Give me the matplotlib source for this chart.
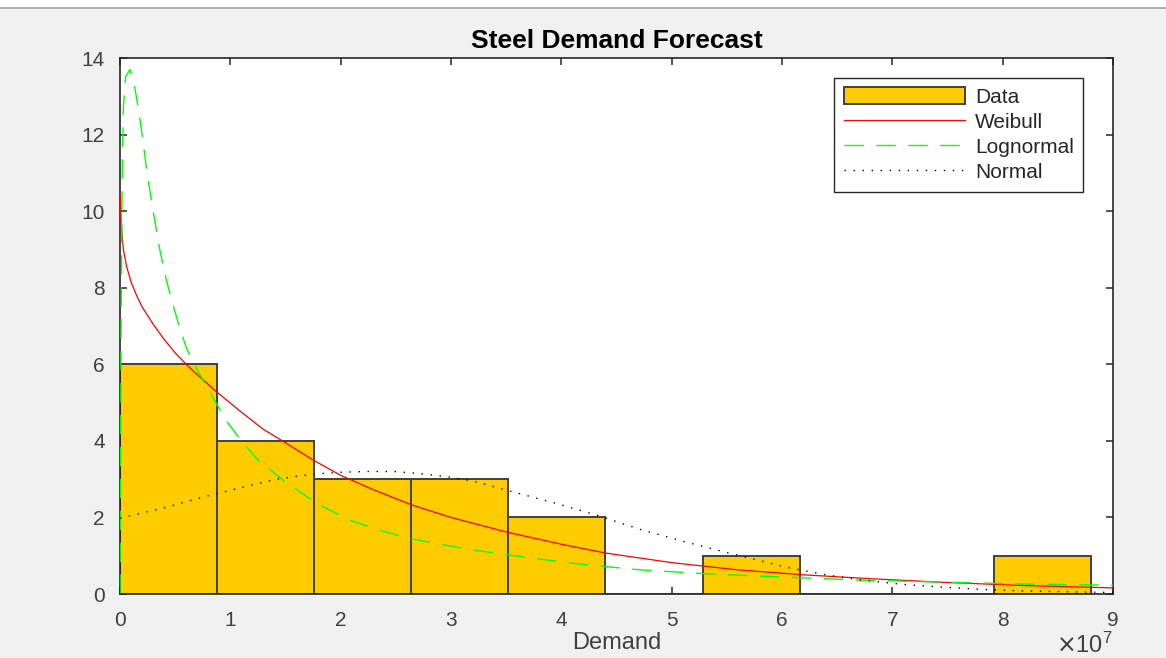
import matplotlib.pyplot as plt
import numpy as np

plt.rcParams['font.family'] = ['Liberation Sans', 'DejaVu Sans']

SCALE = 1e7  # demand values below are in units of 1e7

# histogram of demand (10 bins)
bin_edges = [0.0, 0.88, 1.76, 2.64, 3.52, 4.40, 5.28, 6.16, 7.04, 7.92, 8.80]
counts = [6, 4, 3, 3, 2, 0, 1, 0, 0, 1]

# fitted curves, scaled to counts
weibull_x = [0.003, 0.01, 0.03, 0.06, 0.1, 0.15, 0.2, 0.3, 0.4, 0.5, 0.6, 0.75, 0.88, 1.1,
             1.3, 1.5, 1.75, 2.0, 2.3, 2.65, 3.0, 3.5, 4.0, 4.4, 5.0, 5.6, 6.2, 6.8, 7.5,
             8.2, 9.0]
weibull_y = [10.45, 9.7, 9.0, 8.55, 8.15, 7.8, 7.5, 7.05, 6.65, 6.3, 6.0, 5.6, 5.27, 4.75,
             4.3, 3.95, 3.5, 3.1, 2.72, 2.32, 2.0, 1.62, 1.3, 1.07, 0.82, 0.63, 0.5, 0.4, 0.3,
             0.22, 0.16]

lognormal_x = [0.0, 0.005, 0.01, 0.02, 0.03, 0.05, 0.09, 0.13, 0.17, 0.2, 0.245, 0.3, 0.36,
               0.42, 0.47, 0.53, 0.6, 0.7, 0.84, 0.97, 1.1, 1.25, 1.48, 1.78, 2.08, 2.38,
               2.6, 2.84, 3.2, 3.75, 4.2, 4.72, 5.3, 5.78, 6.3, 6.73, 7.45, 8.18, 9.0]
lognormal_y = [0.0, 3.0, 7.0, 11.0, 12.7, 13.5, 13.7, 13.3, 12.6, 12.0, 11.0, 10.0, 9.0,
               8.2, 7.66, 7.05, 6.44, 5.85, 5.14, 4.5, 4.0, 3.5, 2.97, 2.37, 1.93, 1.64,
               1.47, 1.33, 1.15, 0.93, 0.77, 0.63, 0.53, 0.47, 0.41, 0.36, 0.31, 0.26, 0.23]

normal_x = [0.0, 0.4, 0.75, 1.1, 1.42, 1.75, 2.0, 2.24, 2.48, 2.7, 2.95, 3.2, 3.57, 3.95,
            4.32, 4.7, 5.1, 5.49, 6.07, 6.4, 6.73, 7.1, 7.45, 7.8, 8.18, 8.73, 9.0]
normal_y = [1.98, 2.25, 2.53, 2.78, 3.0, 3.13, 3.18, 3.2, 3.2, 3.15, 3.07, 2.95, 2.66, 2.37,
            2.06, 1.7, 1.38, 1.09, 0.68, 0.5, 0.36, 0.25, 0.18, 0.12, 0.08, 0.05, 0.04]

x_ticks = [0, 1, 2, 3, 4, 5, 6, 7, 8, 9]
x_tick_labels = ['0', '1', '2', '3', '4', '5', '6', '7', '8', '9']
y_ticks = [0, 2, 4, 6, 8, 10, 12, 14]

axis_color = '#262626'
text_color = '#404040'

fig = plt.figure(figsize=(11.66, 6.58), dpi=100, facecolor='#f0f0f0')
ax = fig.add_axes([120 / 1166, 64 / 658, 993 / 1166, 536 / 658])

# window strip along the top edge
fig.patches.append(plt.Rectangle((0, 650 / 658), 1, 8 / 658, transform=fig.transFigure,
                                 facecolor='white', edgecolor='none', zorder=0))
fig.add_artist(plt.Line2D([0, 1], [650 / 658, 650 / 658], transform=fig.transFigure,
                          color='#a0a0a0', linewidth=1.2))

edges = np.array(bin_edges) * SCALE
bars = ax.bar(edges[:-1], counts, width=np.diff(edges), align='edge', color='#ffcc00',
              edgecolor='#404040', linewidth=1.4, label='Data', zorder=2)
l_wb, = ax.plot(np.array(weibull_x) * SCALE, weibull_y, color='#ff0000', linewidth=0.9,
                label='Weibull', zorder=3)
l_ln, = ax.plot(np.array(lognormal_x) * SCALE, lognormal_y, color='#00ff00', linewidth=1.0,
                dashes=(14, 9), label='Lognormal', zorder=3)
l_nm, = ax.plot(np.array(normal_x) * SCALE, normal_y, color='black', linewidth=1.0,
                dashes=(1, 5.5), label='Normal', zorder=3)

ax.set_xlim(0, 9 * SCALE)
ax.set_ylim(0, 14)
ax.set_xticks(np.array(x_ticks) * SCALE)
ax.set_xticklabels(x_tick_labels)
ax.set_yticks(y_ticks)
ax.tick_params(direction='in', length=5, width=1.1, colors=axis_color, labelsize=15,
               top=True, right=True, pad=11)
ax.tick_params(axis='x', pad=12)
for s in ax.spines.values():
    s.set_color(axis_color)
    s.set_linewidth(1.2)
for lab in ax.get_xticklabels() + ax.get_yticklabels():
    lab.set_color(text_color)

ax.set_title('Steel Demand Forecast', fontsize=19, fontweight='bold', color='black', pad=7)
ax.set_xlabel('Demand', fontsize=17, color=text_color, labelpad=2)
ax.text(1.0, -0.095, r'$\times\mathregular{10^7}$', transform=ax.transAxes, ha='right',
        va='center', fontsize=17, color=text_color)

leg = ax.legend([bars, l_wb, l_ln, l_nm], ['Data', 'Weibull', 'Lognormal', 'Normal'],
                loc='upper right', bbox_to_anchor=(0.97, 0.963), fontsize=15,
                handlelength=5.8, handleheight=0.85, labelspacing=0.27, borderpad=0.45,
                handletextpad=0.5, borderaxespad=0, fancybox=False, framealpha=1,
                edgecolor=axis_color)
leg.get_frame().set_linewidth(1.0)
for t in leg.get_texts():
    t.set_color('#262626')

fig.savefig('out.png', dpi=100, facecolor=fig.get_facecolor())
